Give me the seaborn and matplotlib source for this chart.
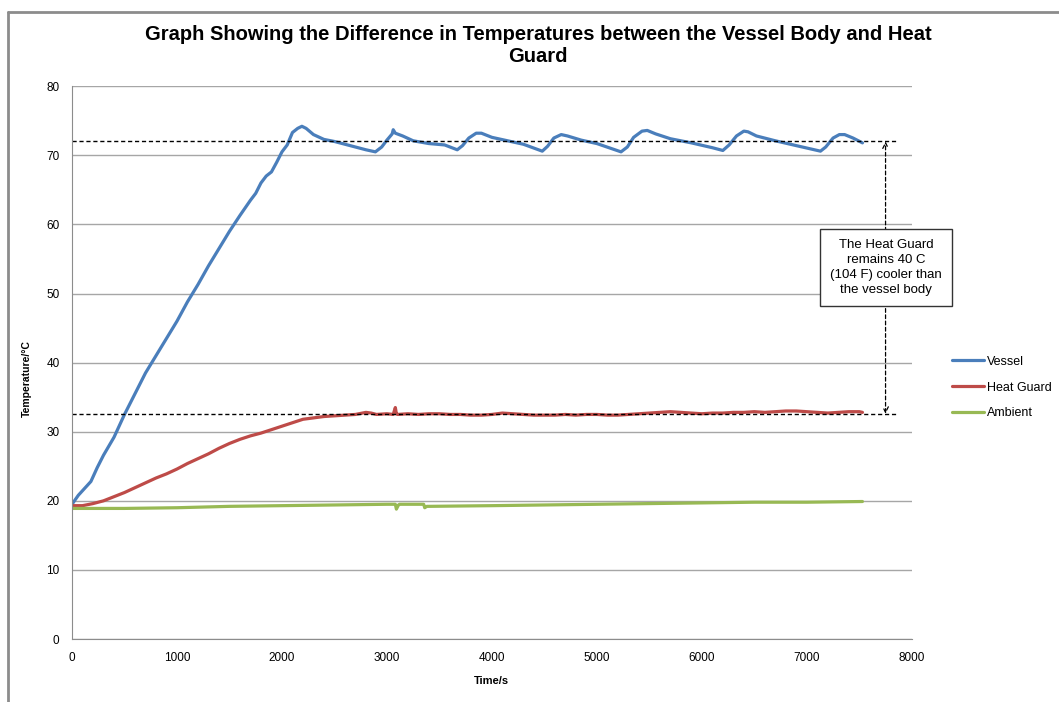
import numpy as np
import pandas as pd
import seaborn as sns
import matplotlib.pyplot as plt
from matplotlib.lines import Line2D

# data (time in s, temperature in C)
vessel_t = [0, 60, 120, 180, 240, 300, 400, 500, 600, 700, 800, 900, 1000, 1100, 1200,
            1300, 1400, 1500, 1600, 1700, 1750, 1800, 1850, 1900, 1950, 2000, 2050, 2100,
            2150, 2190, 2230, 2300, 2400, 2500, 2600, 2700, 2800, 2890, 2950, 3000, 3050,
            3060, 3080, 3150, 3250, 3400, 3550, 3670, 3720, 3780, 3850, 3900, 4000, 4150,
            4300, 4480, 4530, 4590, 4660, 4720, 4850, 5000, 5230, 5290, 5350, 5430, 5480,
            5560, 5700, 5900, 6100, 6200, 6260, 6330, 6400, 6440, 6520, 6700, 6900, 7130,
            7180, 7250, 7310, 7360, 7440, 7530]
vessel_T = [19.5, 20.8, 21.8, 22.8, 24.8, 26.6, 29.2, 32.5, 35.5, 38.5, 41.0, 43.5, 46.0,
            48.8, 51.3, 54.0, 56.5, 59.0, 61.3, 63.5, 64.5, 66.0, 67.0, 67.6, 69.0, 70.5,
            71.5, 73.3, 73.9, 74.2, 73.9, 73.0, 72.3, 72.0, 71.6, 71.2, 70.8, 70.5, 71.2,
            72.2, 73.1, 73.7, 73.2, 72.8, 72.1, 71.7, 71.5, 70.8, 71.4, 72.5, 73.2, 73.2,
            72.6, 72.1, 71.6, 70.6, 71.3, 72.5, 73.0, 72.8, 72.2, 71.7, 70.5, 71.2, 72.6,
            73.5, 73.6, 73.1, 72.4, 71.8, 71.1, 70.7, 71.5, 72.8, 73.5, 73.4, 72.8, 72.1,
            71.4, 70.6, 71.2, 72.5, 73.0, 73.0, 72.5, 71.8]

guard_t = [0, 100, 200, 300, 400, 500, 600, 700, 800, 900, 1000, 1100, 1200, 1300, 1400,
           1500, 1600, 1700, 1800, 1900, 2000, 2100, 2200, 2300, 2400, 2500, 2600, 2700,
           2800, 2850, 2900, 3000, 3060, 3080, 3090, 3100, 3200, 3300, 3400, 3500, 3600,
           3700, 3800, 3900, 4000, 4100, 4200, 4300, 4400, 4500, 4600, 4700, 4800, 4900,
           5000, 5100, 5200, 5300, 5400, 5500, 5600, 5700, 5800, 5900, 6000, 6100, 6200,
           6300, 6400, 6500, 6600, 6700, 6800, 6900, 7000, 7100, 7200, 7300, 7400, 7500,
           7530]
guard_T = [19.3, 19.3, 19.6, 20.0, 20.6, 21.2, 21.9, 22.6, 23.3, 23.9, 24.6, 25.4, 26.1,
           26.8, 27.6, 28.3, 28.9, 29.4, 29.8, 30.3, 30.8, 31.3, 31.8, 32.0, 32.2, 32.3,
           32.4, 32.5, 32.8, 32.7, 32.5, 32.6, 32.5, 33.5, 32.6, 32.5, 32.6, 32.5, 32.6,
           32.6, 32.5, 32.5, 32.4, 32.4, 32.5, 32.7, 32.6, 32.5, 32.4, 32.4, 32.4, 32.5,
           32.4, 32.5, 32.5, 32.4, 32.4, 32.5, 32.6, 32.7, 32.8, 32.9, 32.8, 32.7, 32.6,
           32.7, 32.7, 32.8, 32.8, 32.9, 32.8, 32.9, 33.0, 33.0, 32.9, 32.8, 32.7, 32.8,
           32.9, 32.9, 32.8]

ambient_t = [0, 500, 1000, 1500, 2000, 2500, 3000, 3080, 3090, 3110, 3120, 3350, 3360,
             3380, 3400, 4000, 4500, 5000, 5500, 6000, 6500, 7000, 7530]
ambient_T = [18.9, 18.9, 19.0, 19.2, 19.3, 19.4, 19.5, 19.5, 18.8, 19.4, 19.5, 19.5, 19.0,
             19.2, 19.2, 19.3, 19.4, 19.5, 19.6, 19.7, 19.8, 19.8, 19.9]

series_names = ["Vessel", "Heat Guard", "Ambient"]
colors = ["#4a7ebb", "#be4b48", "#98b954"]
vessel_level = 72.0
guard_level = 32.6

df = pd.concat([
    pd.DataFrame({"time": vessel_t, "temp": vessel_T, "series": "Vessel"}),
    pd.DataFrame({"time": guard_t, "temp": guard_T, "series": "Heat Guard"}),
    pd.DataFrame({"time": ambient_t, "temp": ambient_T, "series": "Ambient"}),
])

sns.set_style("white")
plt.rcParams["font.family"] = ["Liberation Sans", "DejaVu Sans"]
plt.rcParams["text.color"] = "black"

fig = plt.figure(figsize=(10.59, 7.02), dpi=100)
ax = fig.add_axes([0.068, 0.0897, 0.793, 0.7875])

sns.lineplot(data=df, x="time", y="temp", hue="series", hue_order=series_names,
             palette=colors, estimator=None, sort=False, linewidth=2.3, ax=ax,
             legend=False)

ax.set_xlim(0, 8000)
ax.set_ylim(0, 80)
ax.set_xticks(range(0, 8001, 1000))
ax.set_yticks(range(0, 81, 10))
ax.yaxis.grid(True, color="#a6a6a6", linewidth=1)
ax.set_axisbelow(True)
for s in ["top", "right"]:
    ax.spines[s].set_visible(False)
for s in ["left", "bottom"]:
    ax.spines[s].set_color("#8c8c8c")
ax.tick_params(labelsize=8.5, colors="black", length=0, pad=9)

ax.set_xlabel("Time/s", fontsize=8, fontweight="bold", color="black")
ax.xaxis.set_label_coords(0.5, -0.066)
ax.set_ylabel("Temperature/\u00b0C", fontsize=7.5, fontweight="bold", color="black")
ax.yaxis.set_label_coords(-0.048, 0.472)

# reference levels and the double arrow
ax.plot([0, 7860], [vessel_level, vessel_level], color="black", lw=1, ls=(0, (3, 2)))
ax.plot([0, 7860], [guard_level, guard_level], color="black", lw=1, ls=(0, (3, 2)))
ax.annotate("", xy=(7750, vessel_level), xytext=(7750, guard_level),
            arrowprops=dict(arrowstyle="<->", color="black", lw=0.9,
                            linestyle=(0, (3, 2)), shrinkA=0, shrinkB=0))

fig.text(0.8366, 0.619, "The Heat Guard\nremains 40 C\n(104 F) cooler than\nthe vessel body",
         ha="center", va="center", fontsize=9.5, linespacing=1.35,
         bbox=dict(boxstyle="square,pad=0.75", facecolor="white", edgecolor="#333333",
                   linewidth=1))

fig.text(0.508, 0.965, "Graph Showing the Difference in Temperatures between the Vessel Body and Heat\nGuard",
         ha="center", va="top", fontsize=14.5, fontweight="bold", linespacing=1.25)

handles = [Line2D([], [], color=c, lw=2.3) for c in colors]
fig.legend(handles, series_names, loc="center left", bbox_to_anchor=(0.888, 0.448),
           frameon=False, fontsize=9, handlelength=2.6, handletextpad=0.2,
           labelspacing=1.1)

# chart area border, partly visible on the left and top
fig.add_artist(Line2D([0.0076, 0.0076], [0, 0.983], color="#8c8c8c", lw=2))
fig.add_artist(Line2D([0.0076, 1], [0.983, 0.983], color="#8c8c8c", lw=2))

fig.savefig("out.png", dpi=100)
